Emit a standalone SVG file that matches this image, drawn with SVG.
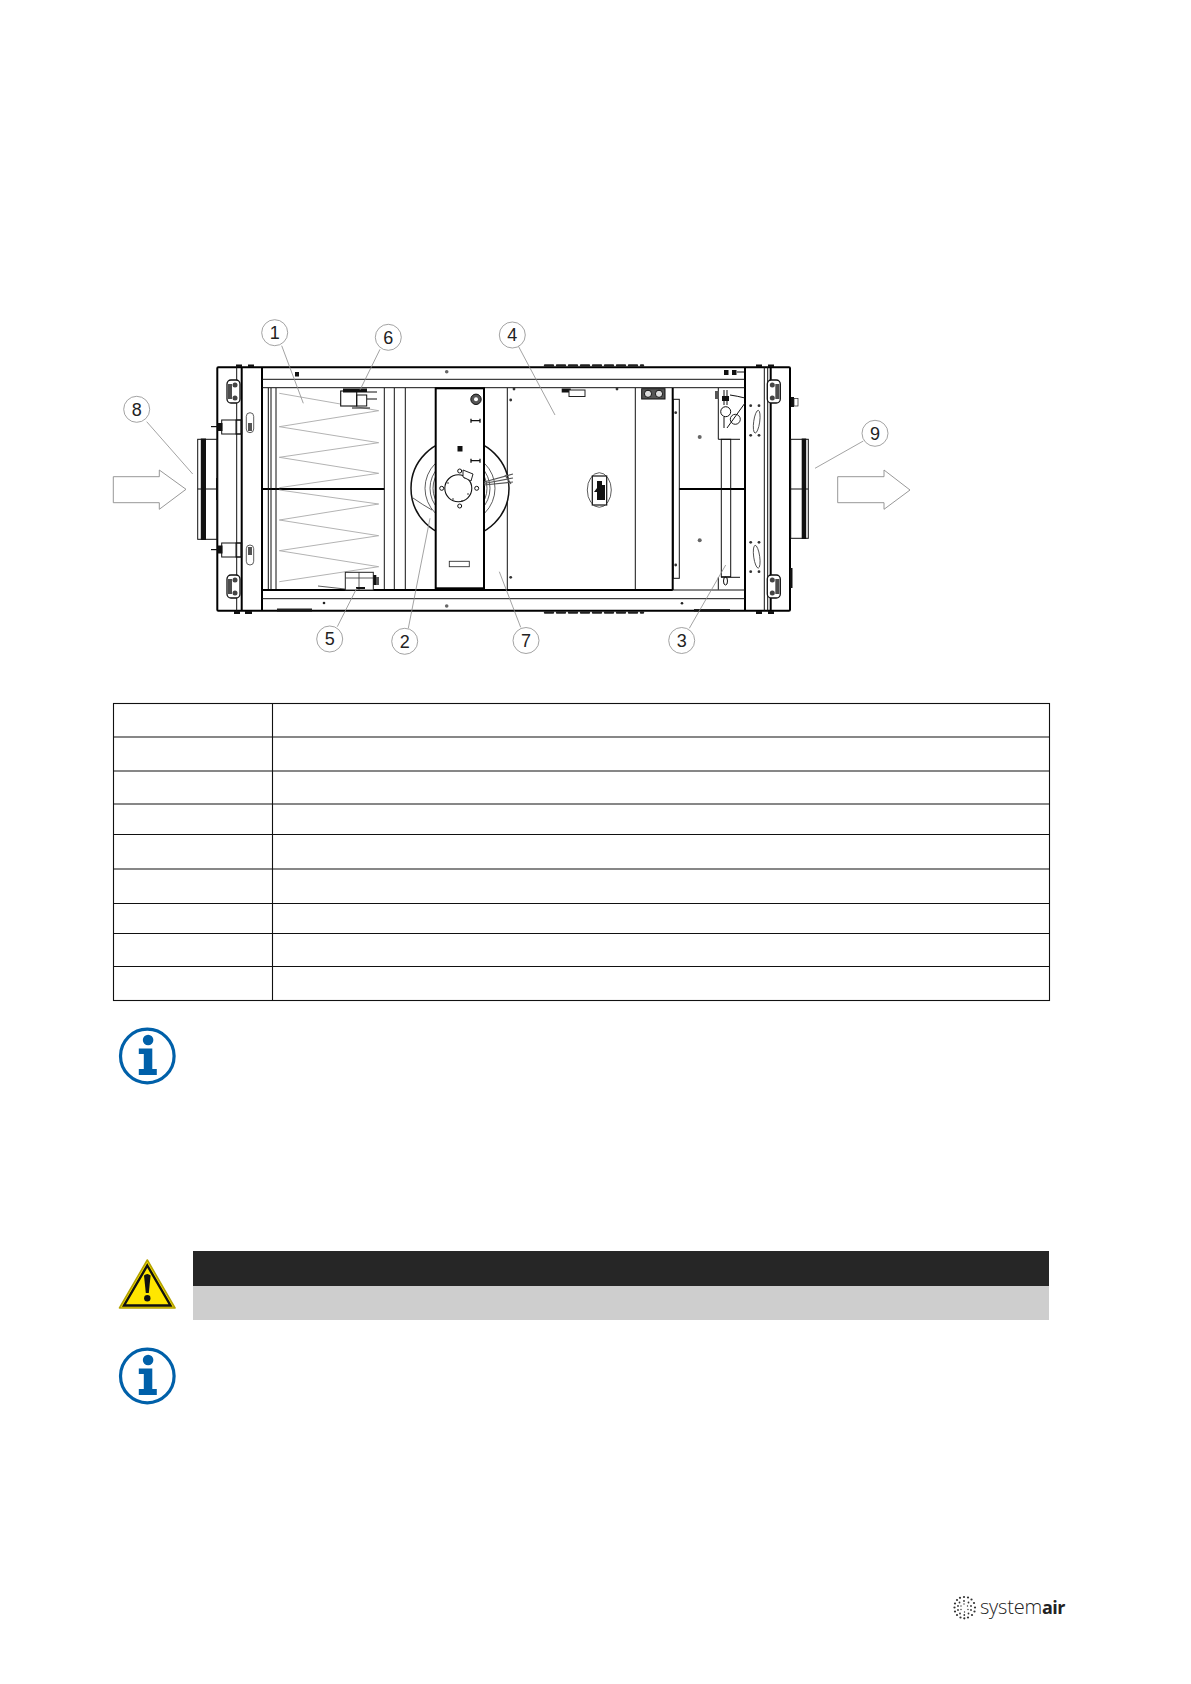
<svg xmlns="http://www.w3.org/2000/svg" width="1191" height="1684" viewBox="0 0 1191 1684">
<style>
.k{fill:none;stroke:#111;stroke-width:1}
.t{fill:none;stroke:#000;stroke-width:2}
.m{fill:none;stroke:#333;stroke-width:.8}
.b{fill:#111;stroke:none}
.g{fill:none;stroke:#aaa;stroke-width:.9}
.lead{fill:none;stroke:#8c8c8c;stroke-width:.8}
.callout{fill:#fff;stroke:#8c8c8c;stroke-width:.8}
.num{font-family:"Liberation Sans",Arial,sans-serif;font-size:18px;fill:#222;text-anchor:middle}
.arrow{fill:#fff;stroke:#8c8c8c;stroke-width:.9}
.row{stroke:#111;stroke-width:1.1;fill:none}
.info{fill:#0060a9}
.scallop{fill:none;stroke:#222;stroke-width:2.4;stroke-linecap:round;stroke-dasharray:8 4}
.logo{font-family:"Open Sans","Noto Sans",sans-serif;fill:#222}
</style>
<defs>
<g id="hinge"><rect x="0" y="0" width="13" height="23" rx="4" fill="#fff" stroke="#111" stroke-width="1.3"/><rect x="8" y="4" width="4" height="15" fill="#111" opacity=".75"/><circle cx="5" cy="5" r="2.5" fill="#444"/><circle cx="5" cy="18" r="2.5" fill="#444"/></g>
<g id="infoIcon"><circle r="26.8" fill="#fff" stroke="#0060a9" stroke-width="3.2"/><circle cx=".8" cy="-16" r="5.3" class="info"/><path class="info" d="M-8.5 -7.5H5V13H9.5V19H-8.5V13H-3.5V-2H-8.5Z"/></g>
<circle id="dot" r="1.4" fill="#333"/>
</defs>

<g id="unit">
<rect x="217.3" y="367.3" width="572.7" height="243.4" class="t" rx="1"/>
<path class="scallop" d="M545 365.5H643M545 612.5H643"/>
<path class="t" d="M241.7 367V611M262 367V611M745 367V611M770.7 367V611"/>
<path class="k" d="M236.7 367V611M764.3 367V611M767.7 367V611"/>
<path class="k" d="M262 379.3H745M262 387.7H745M262 590H745M262 598.7H745"/>
<path class="t" d="M262 489H384.3M679 489H745" stroke-width="1.4"/>
<path class="k" d="M268.3 388V590M271 388V590M276 388V590M384.3 388V590M394.3 388V590M405.3 388V590M507.3 388V590M635.3 388V590"/>
<path class="t" d="M672.7 388V590M262 590H672.7" stroke-width="1.6"/>
<rect x="673.3" y="399.3" width="6" height="179" class="k" fill="#fff"/>
<path class="g" d="M279.3 393.3L378.7 410.7L279.3 426.7L378.7 442.7L279.3 457.3L378.7 473.3L279.3 487.7M279.3 490L378.7 504L279.3 520L378.7 535.7L279.3 550.7L378.7 566.7L279.3 581.7"/>
<circle cx="460" cy="488.3" r="49" fill="#fff" stroke="#111" stroke-width="1.5"/>
<circle cx="460" cy="488.3" r="35" class="m"/>
<circle cx="460" cy="488.3" r="30" class="m"/>
<circle cx="460" cy="488.3" r="27" class="m"/>
<circle cx="460" cy="488.3" r="24" class="m"/>
<rect x="435.7" y="388.3" width="48.3" height="200" fill="#fff" stroke="#000" stroke-width="2"/>
<path class="m" d="M413 498Q423 505 432 510"/>
<circle cx="458.3" cy="488.3" r="13.5" fill="#fff" stroke="#111" stroke-width="1.1"/>
<circle cx="441.7" cy="488.3" r="2" class="k" fill="#fff"/><circle cx="476.7" cy="488.3" r="2" class="k" fill="#fff"/><circle cx="459.7" cy="506" r="2" class="k" fill="#fff"/><circle cx="459.7" cy="471" r="2" class="k" fill="#fff"/>
<circle cx="448" cy="483" r=".8" fill="#222"/><circle cx="468" cy="494" r=".8" fill="#222"/><circle cx="453" cy="499" r=".8" fill="#222"/><circle cx="465" cy="478" r=".8" fill="#222"/><circle cx="462" cy="501" r=".8" fill="#222"/>
<path fill="#fff" stroke="#222" d="M463 470L473 474L471 481L463 477Z"/>
<path stroke="#555" stroke-width="1.2" fill="none" d="M484 482L513 474M484 483.5L513 478M484 485L513 482M505 475L511 484"/>
<circle cx="476" cy="399.3" r="5.2" fill="#555" stroke="#111"/><circle cx="476" cy="399.3" r="2" fill="#fff"/>
<path stroke="#111" stroke-width="1.3" fill="none" d="M471 420.7H480M471 418.7V422.7M480 418.7V422.7M471 460.7H480M471 458.7V462.7M480 458.7V462.7"/>
<rect x="457.5" y="446" width="5" height="5.5" class="b"/>
<rect x="449.3" y="561.3" width="20" height="5.4" fill="#fff" stroke="#333" stroke-width=".9"/>
<ellipse cx="599.3" cy="490" rx="12" ry="17.3" class="m" fill="#fff"/>
<rect x="592.3" y="476" width="14.4" height="29" fill="#fff" stroke="#111" stroke-width="1.2"/>
<path class="b" d="M597 481H602V485H605V500H597V492H594L597 488Z"/>
<rect x="641.7" y="388.7" width="23.3" height="10.3" fill="#555" stroke="#111"/><circle cx="648" cy="393.8" r="3.6" fill="#ddd" stroke="#111"/><circle cx="659" cy="393.8" r="3.6" fill="#ddd" stroke="#111"/>
<rect x="561.7" y="388.5" width="9" height="4" class="b"/><rect x="569" y="390" width="16" height="6.5" fill="#fff" stroke="#222"/>
<path class="b" d="M277 608.5H312V611.5H277ZM694 609H730V611.5H694Z" opacity=".9"/>
<use href="#dot" x="510.7" y="400"/><use href="#dot" x="510.7" y="577.3"/><use href="#dot" x="675.7" y="412.7"/><use href="#dot" x="675.7" y="565"/><use href="#dot" x="514" y="389"/><use href="#dot" x="617" y="389"/>
<circle cx="699.7" cy="437" r="2" fill="#666"/><circle cx="699.7" cy="540.3" r="2" fill="#666"/>
<circle cx="446.7" cy="371.7" r="1.8" fill="#666"/><circle cx="446.7" cy="606" r="1.8" fill="#666"/><circle cx="324" cy="603" r="1.3" fill="#222"/><circle cx="682" cy="603.3" r="1.3" fill="#222"/>
<rect x="295" y="372" width="4" height="4.5" class="b"/><rect x="724" y="370" width="4.5" height="5" class="b"/><rect x="732" y="370" width="4.5" height="5" class="b"/><rect x="737" y="371.5" width="7" height="1" class="b"/>
<rect x="721.3" y="439.3" width="9.4" height="137.4" fill="#fff" class="k"/>
<path class="k" d="M718.3 388V439.3H740M721 577.3H740M718.3 577.3V589.7"/>
<circle cx="725.7" cy="411.7" r="5" fill="#fff" class="k"/><circle cx="735.3" cy="419.3" r="5" fill="#fff" stroke="#222"/>
<path class="k" d="M724 405V390M727 405V390M724 417V428M727 428L745 403M730 395Q737 396 745 398"/>
<rect x="722" y="396" width="7" height="5" class="b"/><rect x="715" y="391" width="4" height="8" fill="#555"/>
<ellipse cx="725.5" cy="581" rx="2" ry="4" class="k" fill="#fff"/>
<g id="frame-bolts"><use href="#dot" x="750.7" y="405.7"/><use href="#dot" x="759" y="405.7"/><use href="#dot" x="750.7" y="435.3"/><use href="#dot" x="759" y="435.3"/><use href="#dot" x="750.7" y="542.3"/><use href="#dot" x="759" y="542.3"/><use href="#dot" x="750.7" y="571.7"/><use href="#dot" x="759" y="571.7"/></g>
<ellipse cx="756.7" cy="421.7" rx="3" ry="11.5" class="m" transform="rotate(8 756.7 421.7)" fill="#fff"/>
<ellipse cx="756.7" cy="556.7" rx="3" ry="11.5" class="m" transform="rotate(-8 756.7 556.7)" fill="#fff"/>
<use href="#hinge" x="767.3" y="380"/><use href="#hinge" x="767.3" y="575"/>
<g transform="translate(240 0) scale(-1 1)"><use href="#hinge" y="380"/><use href="#hinge" y="575"/></g>
<path class="b" d="M236 364.5H242V367H236ZM248 364.5H254V367H248ZM234 611H240V614H234ZM245 611H252V614H245ZM756 364.5H762V367H756ZM768 364.5H774V367H768ZM756 611H762V614H756ZM768 611H774V614H768Z"/>
<rect x="791" y="397" width="3" height="10" class="b"/><rect x="794" y="398.5" width="4" height="7.5" fill="#fff" stroke="#222" stroke-width=".7"/><rect x="790" y="568" width="2.5" height="20" class="b"/>
<rect x="221.7" y="420" width="20" height="14" fill="#fff" class="k"/><rect x="221.7" y="543" width="20" height="14" fill="#fff" class="k"/>
<rect x="236" y="420" width="5" height="14" fill="#fff" class="k"/><rect x="236" y="543" width="5" height="14" fill="#fff" class="k"/>
<rect x="217.5" y="423" width="5" height="8" class="b"/><rect x="217.5" y="545.5" width="5" height="8" class="b"/><rect x="211" y="426" width="7" height="1.2" class="b"/><rect x="211" y="549" width="7" height="1.2" class="b"/>
<rect x="246.3" y="412.7" width="7.4" height="20" rx="3.7" class="m" fill="#fff"/><rect x="246.3" y="545" width="7.4" height="20" rx="3.7" class="m" fill="#fff"/>
<rect x="248" y="423" width="4" height="8" fill="#555"/><rect x="248" y="547" width="4" height="8" fill="#555"/>
<g id="actuator-6"><rect x="340.7" y="391" width="16" height="15" fill="#fff" stroke="#111" stroke-width="1.1"/><rect x="343" y="388.5" width="24" height="4" class="b"/><rect x="356.7" y="395" width="10" height="11" fill="#fff" class="k"/><path class="k" d="M367 392H377M367 399H377M352 408H370"/></g>
<g id="actuator-5"><rect x="345.3" y="572.3" width="28" height="17.7" fill="#fff" stroke="#222"/><path class="m" d="M345.3 578H373.3M359 572V590M318 586L345 589"/><rect x="373.3" y="575" width="3" height="10" class="b"/><rect x="376" y="577" width="3" height="8" fill="#555"/><rect x="356" y="587" width="9" height="2" class="b"/></g>
<rect x="197.7" y="439.3" width="19.6" height="100" class="k" fill="#fff"/>
<path class="k" d="M197.7 489H217"/><rect x="200.8" y="438.5" width="5.2" height="101.5" class="b"/><rect x="216" y="478" width="1.2" height="22" class="b"/>
<rect x="790.7" y="439.3" width="17.6" height="99" class="k" fill="#fff"/>
<path class="k" d="M790.7 489H808"/><rect x="801.7" y="438.5" width="4.5" height="100.5" class="b"/>
</g>

<g id="connectors">
<path class="lead" d="M281.7 345.7L303.3 403.3M380 349.3L360 390M146.7 421.7L192.7 474M337.3 626.7L356.7 588.3M408.3 628.3L430 518.3M518.3 346L555 415M863.3 441L815 468.3M520.7 627.3L499.3 571.7M689.3 628.3L725.7 565"/>
</g>
<path id="arrow-in" class="arrow" d="M113.3 476.7H159.3V470L186 489.3L159.3 509.3V502.7H113.3Z"/>
<path id="arrow-out" class="arrow" d="M837.7 476.7H884V470L910 490L884 509.3V502.7H837.7Z"/>

<g id="n1"><circle class="callout" cx="274.7" cy="332.7" r="13"/><text class="num" x="274.7" y="339">1</text></g>
<g id="n2"><circle class="callout" cx="404.7" cy="641.3" r="13"/><text class="num" x="404.7" y="647.6">2</text></g>
<g id="n3"><circle class="callout" cx="681.7" cy="640.5" r="13"/><text class="num" x="681.7" y="646.8">3</text></g>
<g id="n4"><circle class="callout" cx="512.3" cy="335" r="13"/><text class="num" x="512.3" y="341.3">4</text></g>
<g id="n5"><circle class="callout" cx="329.7" cy="639" r="13"/><text class="num" x="329.7" y="645.3">5</text></g>
<g id="n6"><circle class="callout" cx="388.3" cy="337.3" r="13"/><text class="num" x="388.3" y="343.6">6</text></g>
<g id="n7"><circle class="callout" cx="526" cy="640.5" r="13"/><text class="num" x="526" y="646.8">7</text></g>
<g id="n8"><circle class="callout" cx="136.7" cy="409.3" r="13"/><text class="num" x="136.7" y="415.6">8</text></g>
<g id="n9"><circle class="callout" cx="875" cy="433.3" r="13"/><text class="num" x="875" y="439.6">9</text></g>

<g id="table">
<rect class="row" x="113.5" y="703.5" width="936" height="297"/>
<path class="row" d="M272.5 703.5V1000.5M113.5 737H1049.5M113.5 771H1049.5M113.5 804H1049.5M113.5 834.5H1049.5M113.5 869H1049.5M113.5 903.5H1049.5M113.5 933.5H1049.5M113.5 966.5H1049.5"/>
</g>

<use id="info-1" href="#infoIcon" x="147.3" y="1056"/>
<use id="info-2" href="#infoIcon" x="147.3" y="1376"/>

<g id="warning">
<path d="M147.3 1260L175 1308H119.5Z" fill="#ffe600" stroke="#b5a300" stroke-width="1.6" stroke-linejoin="round"/>
<path d="M147.3 1265.5L170.5 1305.5H124Z" fill="#ffe600" stroke="#111" stroke-width="2.4" stroke-linejoin="miter"/>
<path d="M144 1275.5Q147.3 1272.5 150.6 1275.5L148.8 1293H145.8Z" fill="#111"/>
<circle cx="147.3" cy="1298.2" r="3.2" fill="#111"/>
<rect x="193" y="1251" width="856" height="35" fill="#262626"/>
<rect x="193" y="1286" width="856" height="34" fill="#cecece"/>
</g>

<g id="logo">
<g fill="#333">
<circle cx="964" cy="1597" r="1.1"/><circle cx="968" cy="1597.5" r="1.1"/><circle cx="960" cy="1597.8" r="1.1"/><circle cx="971.5" cy="1599.5" r="1.1"/><circle cx="957" cy="1600" r="1.1"/><circle cx="974" cy="1603" r="1.1"/><circle cx="955" cy="1603.5" r="1.1"/><circle cx="975" cy="1607.5" r="1.1"/><circle cx="954.5" cy="1607.5" r="1.1"/><circle cx="974.5" cy="1611.5" r="1.1"/><circle cx="955" cy="1611.5" r="1.1"/><circle cx="972" cy="1615" r="1.1"/><circle cx="957" cy="1615" r="1.1"/><circle cx="968" cy="1617.5" r="1.1"/><circle cx="960.5" cy="1617.5" r="1.1"/><circle cx="964.3" cy="1618.3" r="1.1"/>
<circle cx="964" cy="1601" r=".9"/><circle cx="968.5" cy="1602.5" r=".9"/><circle cx="959.5" cy="1602.5" r=".9"/><circle cx="971" cy="1606" r=".9"/><circle cx="958" cy="1606" r=".9"/><circle cx="971" cy="1610" r=".9"/><circle cx="958" cy="1610" r=".9"/><circle cx="968.5" cy="1613.5" r=".9"/><circle cx="960" cy="1613.5" r=".9"/><circle cx="964.3" cy="1615" r=".9"/>
<circle cx="964" cy="1604" r=".7"/><circle cx="967.5" cy="1606" r=".7"/><circle cx="961" cy="1606" r=".7"/><circle cx="968" cy="1609.5" r=".7"/><circle cx="961" cy="1609.5" r=".7"/><circle cx="964.5" cy="1612" r=".7"/>
</g>
<text class="logo" x="980" y="1614" font-size="20" font-weight="300" letter-spacing="-.2">system<tspan font-size="18" font-weight="700" letter-spacing="-.6">air</tspan></text>
</g>
</svg>
